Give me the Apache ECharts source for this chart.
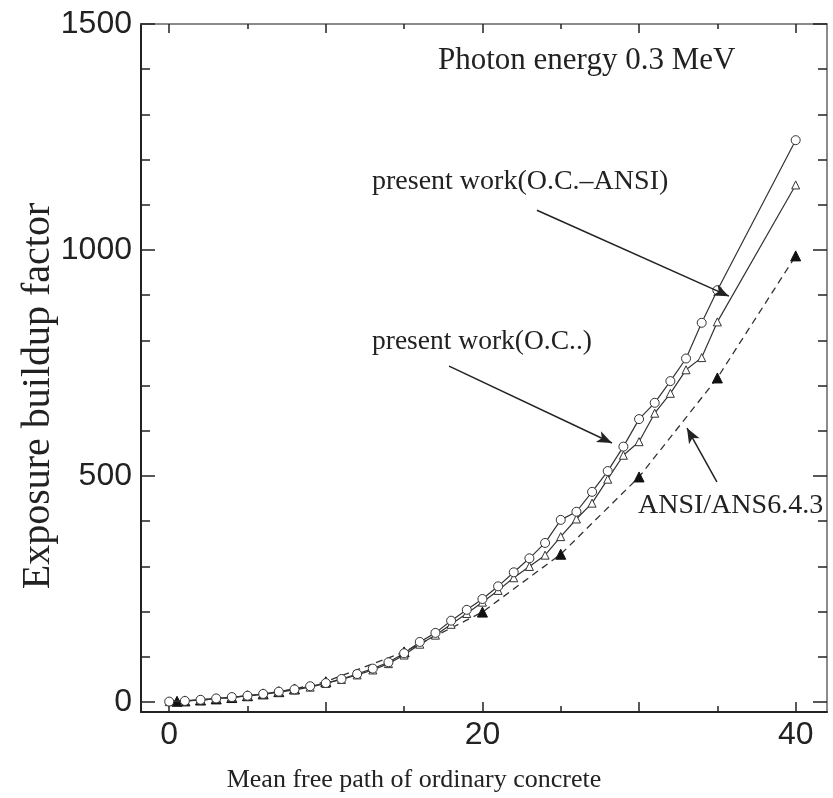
<!DOCTYPE html>
<html>
<head>
<meta charset="utf-8">
<script src="https://cdn.jsdelivr.net/npm/echarts@6/dist/echarts.min.js"></script>
<style>
html,body{margin:0;padding:0;background:#fff;}
#chart{width:833px;height:798px;}
</style>
</head>
<body>
<div id="chart"></div>
<script>
// ---- data ----
const pwX = [0,1,2,3,4,5,6,7,8,9,10,11,12,13,14,15,16,17,18,19,20,21,22,23,24,25,26,27,28,29,30,31,32,33,34,35,40];
const ocAnsiVals = [1,2.5,5,8,11,14,18,23,28,35,42,51,62,74,88,108,133,153,180,204,228,256,287,318,352,403,421,465,511,565,626,662,710,760,839,911,1243];
const ocVals = [1,2.4,4.8,7.5,10.5,13.5,17,22,27,33,41,50,60,71,85,104,128,148,172,196,221,247,275,300,325,366,405,440,493,546,576,639,683,735,762,841,1144];
const ansiX = [0.5,1,2,3,4,5,6,7,8,10,15,20,25,30,35,40];
const ansiVals = [1.7,2.5,4.5,7,10,14,18,23,29,45,111,199,327,498,717,987];
const xLabelTicks = [0,20,40];
const xMajorTicks = [0,10,20,30,40];
const xMinorTicks = [5,15,25,35];
const yLabelTicks = [0,500,1000,1500];
const yMinorTicks = [100,200,300,400,600,700,800,900,1100,1200,1300,1400];
const xTitle = 'Mean free path of ordinary concrete';
const yTitle = 'Exposure buildup factor';
const noteEnergy = 'Photon energy 0.3 MeV';
const noteOcAnsi = 'present work(O.C.–ANSI)';
const noteOc = 'present work(O.C..)';
const noteAnsi = 'ANSI/ANS6.4.3';
// arrows: [start, end] in data coordinates
const arrowOcAnsi = [[23.48,1088],[35.74,898]];
const arrowOc = [[17.87,743],[28.27,573]];
const arrowAnsi = [[34.97,487],[33.06,606]];

const pairs = (xs, ys) => xs.map((x,i)=>[x, ys[i]]);

const SERIF = '"Liberation Serif", "Times New Roman", serif';
const SANS = '"Liberation Sans", Arial, sans-serif';
const INK = '#222';

const chart = echarts.init(document.getElementById('chart'), null, {renderer:'canvas'});

const XMIN = -1.8, XMAX = 42, YMIN = -22, YMAX = 1500;

function xAx(pos, ticks, len, opts) {
  return Object.assign({
    type:'value', position:pos, offset:0, min:XMIN, max:XMAX,
    splitLine:{show:false},
    axisLine:{show:false, onZero:false},
    axisTick:{show:true, inside:true, length:len, customValues:ticks, lineStyle:{color:INK, width:1.5}},
    axisLabel:{show:false}
  }, opts||{});
}
function yAx(pos, ticks, len, opts) {
  return Object.assign({
    type:'value', position:pos, offset:0, min:YMIN, max:YMAX,
    splitLine:{show:false},
    axisLine:{show:false, onZero:false},
    axisTick:{show:true, inside:true, length:len, customValues:ticks, lineStyle:{color:INK, width:1.5}},
    axisLabel:{show:false}
  }, opts||{});
}

const option = {
  animation:false,
  backgroundColor:'#fff',
  grid:{left:141, right:6, top:24, bottom:86, containLabel:false, outerBoundsMode:'none'},
  xAxis:[
    xAx('bottom', xMajorTicks, 10, {
      axisLine:{show:true, onZero:false, lineStyle:{color:INK, width:2}},
      axisLabel:{show:true, customValues:xLabelTicks, margin:7, fontSize:32, fontFamily:SANS, color:INK, formatter:(v)=>String(v)},
      name:xTitle, nameLocation:'middle', nameGap:55, nameMoveOverlap:false,
      nameTextStyle:{fontFamily:SERIF, fontSize:26, color:INK, padding:[0,140,0,0]}
    }),
    xAx('bottom', xMinorTicks, 6),
    xAx('top', xMajorTicks, 9, {axisLine:{show:true, onZero:false, lineStyle:{color:'#666', width:1.5}}}),
    xAx('top', xMinorTicks, 5)
  ],
  yAxis:[
    yAx('left', yLabelTicks, 14, {
      axisLine:{show:true, onZero:false, lineStyle:{color:INK, width:2}},
      axisLabel:{show:true, customValues:yLabelTicks, margin:9, fontSize:32, fontFamily:SANS, color:INK, formatter:(v)=>String(v)},
      name:yTitle, nameLocation:'middle', nameGap:83, nameMoveOverlap:false,
      nameTextStyle:{fontFamily:SERIF, fontSize:40, color:INK, padding:[0,56,0,0]}
    }),
    yAx('left', yMinorTicks, 9),
    yAx('right', yLabelTicks, 14, {axisLine:{show:true, onZero:false, lineStyle:{color:'#666', width:1.5}}}),
    yAx('right', yMinorTicks, 9)
  ],
  series:[
    {
      name:'ANSI/ANS6.4.3', type:'line', xAxisIndex:0, yAxisIndex:0,
      data:pairs(ansiX, ansiVals),
      symbol:'triangle', symbolSize:10,
      itemStyle:{color:'#111', borderColor:'#111'},
      lineStyle:{color:'#333', width:1.3, type:[7,5]},
      z:2,
      markLine:{
        silent:true, symbol:['none','arrow'], symbolSize:[9,15],
        label:{show:false},
        lineStyle:{color:'#222', width:1.5, type:'solid'},
        emphasis:{disabled:true},
        data:[
          [{coord:arrowOcAnsi[0]},{coord:arrowOcAnsi[1]}],
          [{coord:arrowOc[0]},{coord:arrowOc[1]}],
          [{coord:arrowAnsi[0]},{coord:arrowAnsi[1]}]
        ]
      }
    },
    {
      name:'present work(O.C..)', type:'line', xAxisIndex:0, yAxisIndex:0,
      data:pairs(pwX, ocVals),
      symbol:'triangle', symbolSize:8,
      itemStyle:{color:'#fff', borderColor:'#333', borderWidth:1},
      lineStyle:{color:'#333', width:1.2},
      z:3
    },
    {
      name:'present work(O.C.–ANSI)', type:'line', xAxisIndex:0, yAxisIndex:0,
      data:pairs(pwX, ocAnsiVals),
      symbol:'circle', symbolSize:9,
      itemStyle:{color:'#fff', borderColor:'#333', borderWidth:1},
      lineStyle:{color:'#333', width:1.2},
      z:4
    }
  ],
  graphic:[
    {type:'text', x:438, y:61, style:{text:noteEnergy, font:'31px '+SERIF, fill:INK, verticalAlign:'middle'}},
    {type:'text', x:372, y:182, style:{text:noteOcAnsi, font:'28px '+SERIF, fill:INK, verticalAlign:'middle'}},
    {type:'text', x:372, y:342, style:{text:noteOc, font:'27.5px '+SERIF, fill:INK, verticalAlign:'middle'}},
    {type:'text', x:638, y:506, style:{text:noteAnsi, font:'28px '+SERIF, fill:INK, verticalAlign:'middle'}}
  ]
};
chart.setOption(option);
</script>
</body>
</html>
